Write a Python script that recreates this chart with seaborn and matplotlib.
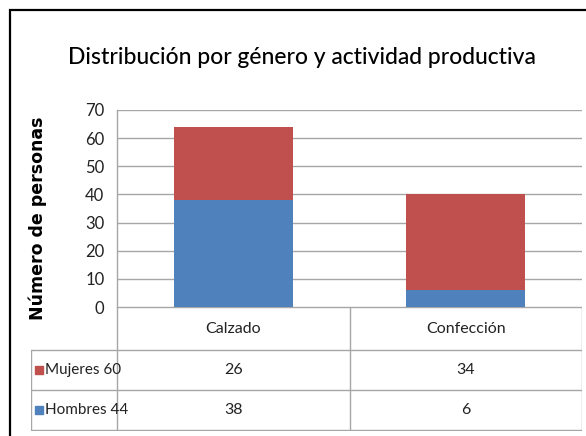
import numpy as np
import pandas as pd
import seaborn as sns
import matplotlib.pyplot as plt
from matplotlib.patches import Rectangle
from matplotlib.lines import Line2D

# datos
categorias = ["Calzado", "Confección"]
mujeres = [26, 34]
hombres = [38, 6]
series = ["Mujeres", "Hombres"]
yticks = [0, 10, 20, 30, 40, 50, 60, 70]

azul = "#4F81BD"
rojo = "#C0504D"
gris = "#A6A6A6"

sns.set_theme(style="white")
plt.rcParams['font.family'] = ['Lato', 'DejaVu Sans']

W, H = 586, 436
fig = plt.figure(figsize=(W / 100, H / 100), dpi=100)

def fx(px):
    return px / W

def fy(py):
    return 1 - py / H

# marco negro
fig.patches.append(Rectangle((fx(10), fy(445)), fx(600), fy(10) - fy(445),
                             transform=fig.transFigure, fill=False,
                             edgecolor="black", lw=1.6))

x0, x1, ytop, ybot = 117, 582, 110, 307
ax = fig.add_axes([fx(x0), fy(ybot), fx(x1 - x0), fy(ytop) - fy(ybot)])

df = pd.DataFrame({"cat": categorias,
                   "Mujeres": mujeres,
                   "Hombres": hombres})
df["total"] = df["Mujeres"] + df["Hombres"]

sns.barplot(data=df, x="cat", y="total", color=rojo, saturation=1,
            width=0.51, ax=ax)
sns.barplot(data=df, x="cat", y="Hombres", color=azul, saturation=1,
            width=0.51, ax=ax)

ax.set_ylim(0, 70)
ax.set_xlim(-0.5, 1.5)
ax.set_yticks(yticks)
ax.set_yticklabels([str(t) for t in yticks], fontsize=12, color="#222222")
ax.tick_params(axis="y", length=0, pad=9)
ax.set_xticks([])
ax.set_xlabel("")
ax.set_ylabel("")
ax.yaxis.grid(True, color=gris, lw=1)
ax.set_axisbelow(True)
for s in ["top", "right", "bottom"]:
    ax.spines[s].set_visible(False)
ax.spines["left"].set_color(gris)
ax.spines["left"].set_linewidth(1)
for p in ax.patches:
    p.set_edgecolor("none")

# titulo y eje
fig.text(fx(302), fy(57), "Distribución por género y actividad productiva",
         ha="center", va="center", fontsize=16.5, fontweight="medium",
         color="black")
fig.text(fx(38), fy(218), "Número de personas", rotation=90,
         ha="center", va="center", fontsize=12.5, fontweight="bold",
         family="DejaVu Sans", color="black")

# tabla de datos
tl = 31
tab = fig.add_axes([fx(tl), fy(431), fx(x1 - tl), fy(ybot) - fy(431)])
tab.set_xlim(tl, x1)
tab.set_ylim(431, ybot)
tab.axis("off")
filas = [ybot, 350, 390, 430]
xm = (x0 + x1) / 2
tab.add_line(Line2D([x0, x1], [filas[0]] * 2, color=gris, lw=1))
for yy in filas[1:]:
    tab.add_line(Line2D([tl, x1], [yy] * 2, color=gris, lw=1))
for xx in [x0, xm, x1]:
    tab.add_line(Line2D([xx, xx], [filas[0], filas[-1]], color=gris, lw=1))
tab.add_line(Line2D([tl, tl], [filas[1], filas[-1]], color=gris, lw=1))

centros = [(x0 + xm) / 2, (xm + x1) / 2]
for c, cat in zip(centros, categorias):
    tab.text(c, (filas[0] + filas[1]) / 2, cat, ha="center", va="center",
             fontsize=11.5, color="#222222")

valores = [mujeres, hombres]
colores = [rojo, azul]
for i, (nombre, vals, col) in enumerate(zip(series, valores, colores)):
    yc = (filas[i + 1] + filas[i + 2]) / 2
    tab.add_patch(Rectangle((35, yc - 4), 8, 8, color=col))
    tab.text(45, yc, f"{nombre} {sum(vals)}", ha="left", va="center",
             fontsize=11, color="#222222")
    for c, v in zip(centros, vals):
        tab.text(c, yc, str(v), ha="center", va="center",
                 fontsize=11.5, color="#222222")

fig.savefig("out.png", dpi=100, facecolor="white")
